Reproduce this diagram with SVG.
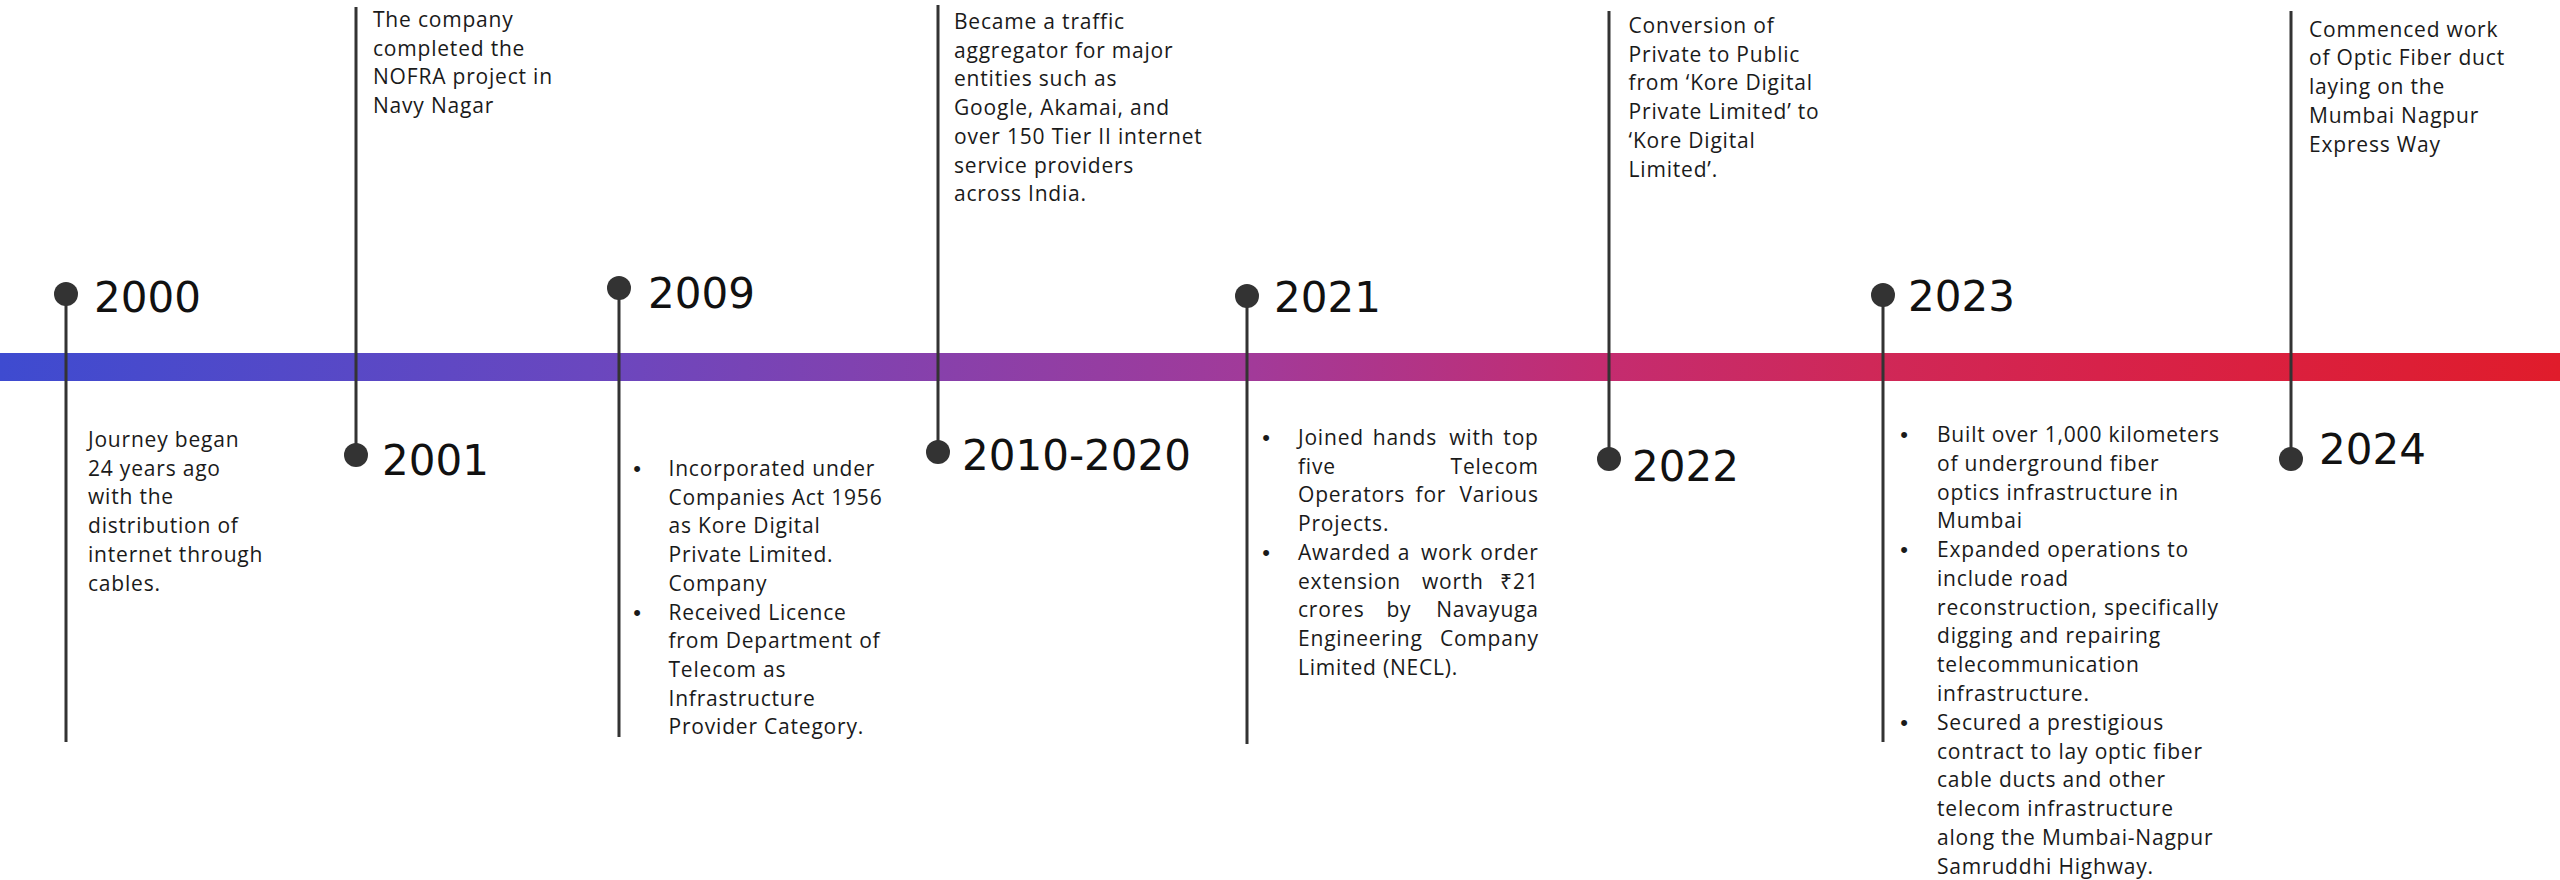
<svg xmlns="http://www.w3.org/2000/svg" width="2560" height="880" viewBox="0 0 2560 880">
  <defs>
    <linearGradient id="barGrad" x1="0" y1="0" x2="1" y2="0">
      <stop offset="0" stop-color="#3e4bd0"/>
      <stop offset="0.23" stop-color="#6a47bf"/>
      <stop offset="0.49" stop-color="#a23a99"/>
      <stop offset="0.625" stop-color="#c42c70"/>
      <stop offset="0.73" stop-color="#cf2858"/>
      <stop offset="0.82" stop-color="#d7224a"/>
      <stop offset="1" stop-color="#e01c2b"/>
    </linearGradient>
    <style>
      .stem { stroke: #333333; stroke-width: 3; fill: none; }
      .dot { fill: #333333; }
      .year { font-family: "DejaVu Sans", "Liberation Sans", sans-serif; font-size: 42px; fill: #111111; }
      .body { font-family: "Open Sans", "Liberation Sans", sans-serif; font-size: 21px; fill: #1a1a1a; letter-spacing: 0.8px; }
      .bullet { font-family: "Liberation Sans", sans-serif; font-size: 22px; fill: #1a1a1a; text-anchor: middle; }
      .end { text-anchor: end; }
      .mid { text-anchor: middle; }
    </style>
  </defs>

  <rect width="2560" height="880" fill="#ffffff"/>

  <!-- timeline bar -->
  <g id="timeline-bar">
    <rect x="0" y="353" width="2560" height="28" fill="url(#barGrad)"/>
  </g>

  <!-- stems joining each milestone to its description -->
  <g id="connectors">
    <line class="stem" x1="66" y1="294" x2="66" y2="742"/>
    <line class="stem" x1="356" y1="7" x2="356" y2="455"/>
    <line class="stem" x1="619" y1="288" x2="619" y2="737"/>
    <line class="stem" x1="938" y1="5" x2="938" y2="452"/>
    <line class="stem" x1="1247" y1="296" x2="1247" y2="744"/>
    <line class="stem" x1="1609" y1="11" x2="1609" y2="459"/>
    <line class="stem" x1="1883" y1="295" x2="1883" y2="742"/>
    <line class="stem" x1="2291" y1="11" x2="2291" y2="459"/>
  </g>

  <g id="m2000">
    <circle class="dot" cx="66" cy="294" r="12"/>
    <text class="year" x="94" y="312">2000</text>
    <text class="body">
      <tspan x="88" y="447">Journey began</tspan>
      <tspan x="88" y="475.7">24 years ago</tspan>
      <tspan x="88" y="504.4">with the</tspan>
      <tspan x="88" y="533.1">distribution of</tspan>
      <tspan x="88" y="561.8">internet through</tspan>
      <tspan x="88" y="590.5">cables.</tspan>
    </text>
  </g>

  <g id="m2001">
    <circle class="dot" cx="356" cy="455" r="12"/>
    <text class="year" x="382" y="475">2001</text>
    <text class="body">
      <tspan x="373" y="27">The company</tspan>
      <tspan x="373" y="55.7">completed the</tspan>
      <tspan x="373" y="84.4">NOFRA project in</tspan>
      <tspan x="373" y="113.1">Navy Nagar</tspan>
    </text>
  </g>

  <g id="m2009">
    <circle class="dot" cx="619" cy="288" r="12"/>
    <text class="year" x="648" y="308">2009</text>
    <text class="bullet" x="637" y="476">•</text>
    <text class="bullet" x="637" y="619.5">•</text>
    <text class="body">
      <tspan x="668.5" y="476">Incorporated under</tspan>
      <tspan x="668.5" y="504.7">Companies Act 1956</tspan>
      <tspan x="668.5" y="533.4">as Kore Digital</tspan>
      <tspan x="668.5" y="562.1">Private Limited.</tspan>
      <tspan x="668.5" y="590.8">Company</tspan>
      <tspan x="668.5" y="619.5">Received Licence</tspan>
      <tspan x="668.5" y="648.2">from Department of</tspan>
      <tspan x="668.5" y="676.9">Telecom as</tspan>
      <tspan x="668.5" y="705.6">Infrastructure</tspan>
      <tspan x="668.5" y="734.3">Provider Category.</tspan>
    </text>
  </g>

  <g id="m2010-2020">
    <circle class="dot" cx="938" cy="452" r="12"/>
    <text class="year" x="962" y="470">2010-2020</text>
    <text class="body">
      <tspan x="954" y="29">Became a traffic</tspan>
      <tspan x="954" y="57.7">aggregator for major</tspan>
      <tspan x="954" y="86.4">entities such as</tspan>
      <tspan x="954" y="115.1">Google, Akamai, and</tspan>
      <tspan x="954" y="143.8">over 150 Tier II internet</tspan>
      <tspan x="954" y="172.5">service providers</tspan>
      <tspan x="954" y="201.2">across India.</tspan>
    </text>
  </g>

  <g id="m2021">
    <circle class="dot" cx="1247" cy="296" r="12"/>
    <text class="year" x="1274" y="312">2021</text>
    <text class="bullet" x="1266" y="445">•</text>
    <text class="bullet" x="1266" y="559.8">•</text>
    <!-- justified paragraph: words placed individually -->
    <text class="body">
      <tspan x="1298" y="445">Joined</tspan>
      <tspan class="mid" x="1408" y="445">hands</tspan>
      <tspan class="mid" x="1475" y="445">with</tspan>
      <tspan class="end" x="1545" y="445">top</tspan>
      <tspan x="1298" y="473.7">five</tspan>
      <tspan class="end" x="1545" y="473.7">Telecom</tspan>
      <tspan x="1298" y="502.4">Operators</tspan>
      <tspan class="mid" x="1434" y="502.4">for</tspan>
      <tspan class="end" x="1545" y="502.4">Various</tspan>
      <tspan x="1298" y="531.1">Projects.</tspan>
      <tspan x="1298" y="559.8">Awarded</tspan>
      <tspan class="mid" x="1407" y="559.8">a</tspan>
      <tspan class="mid" x="1450" y="559.8">work</tspan>
      <tspan class="end" x="1545" y="559.8">order</tspan>
      <tspan x="1298" y="588.5">extension</tspan>
      <tspan class="mid" x="1456" y="588.5">worth</tspan>
      <tspan class="end" x="1545" y="588.5">₹21</tspan>
      <tspan x="1298" y="617.2">crores</tspan>
      <tspan class="mid" x="1402" y="617.2">by</tspan>
      <tspan class="end" x="1545" y="617.2">Navayuga</tspan>
      <tspan x="1298" y="645.9">Engineering</tspan>
      <tspan class="end" x="1545" y="645.9">Company</tspan>
      <tspan x="1298" y="674.6">Limited (NECL).</tspan>
    </text>
  </g>

  <g id="m2022">
    <circle class="dot" cx="1609" cy="459" r="12"/>
    <text class="year" x="1632" y="481">2022</text>
    <text class="body">
      <tspan x="1628.6" y="33">Conversion of</tspan>
      <tspan x="1628.6" y="61.7">Private to Public</tspan>
      <tspan x="1628.6" y="90.4">from ‘Kore Digital</tspan>
      <tspan x="1628.6" y="119.1">Private Limited’ to</tspan>
      <tspan x="1628.6" y="147.8">‘Kore Digital</tspan>
      <tspan x="1628.6" y="176.5">Limited’.</tspan>
    </text>
  </g>

  <g id="m2023">
    <circle class="dot" cx="1883" cy="295" r="12"/>
    <text class="year" x="1908" y="311">2023</text>
    <text class="bullet" x="1904" y="442">•</text>
    <text class="bullet" x="1904" y="557.1">•</text>
    <text class="bullet" x="1904" y="729.7">•</text>
    <text class="body">
      <tspan x="1937" y="442">Built over 1,000 kilometers</tspan>
      <tspan x="1937" y="470.8">of underground fiber</tspan>
      <tspan x="1937" y="499.5">optics infrastructure in</tspan>
      <tspan x="1937" y="528.3">Mumbai</tspan>
      <tspan x="1937" y="557.1">Expanded operations to</tspan>
      <tspan x="1937" y="585.9">include road</tspan>
      <tspan x="1937" y="614.6">reconstruction, specifically</tspan>
      <tspan x="1937" y="643.4">digging and repairing</tspan>
      <tspan x="1937" y="672.2">telecommunication</tspan>
      <tspan x="1937" y="700.9">infrastructure.</tspan>
      <tspan x="1937" y="729.7">Secured a prestigious</tspan>
      <tspan x="1937" y="758.5">contract to lay optic fiber</tspan>
      <tspan x="1937" y="787.2">cable ducts and other</tspan>
      <tspan x="1937" y="816">telecom infrastructure</tspan>
      <tspan x="1937" y="844.8">along the Mumbai-Nagpur</tspan>
      <tspan x="1937" y="873.6">Samruddhi Highway.</tspan>
    </text>
  </g>

  <g id="m2024">
    <circle class="dot" cx="2291" cy="459" r="12"/>
    <text class="year" x="2319" y="464">2024</text>
    <text class="body">
      <tspan x="2309" y="36.7">Commenced work</tspan>
      <tspan x="2309" y="65.4">of Optic Fiber duct</tspan>
      <tspan x="2309" y="94.1">laying on the</tspan>
      <tspan x="2309" y="122.8">Mumbai Nagpur</tspan>
      <tspan x="2309" y="151.5">Express Way</tspan>
    </text>
  </g>
</svg>
